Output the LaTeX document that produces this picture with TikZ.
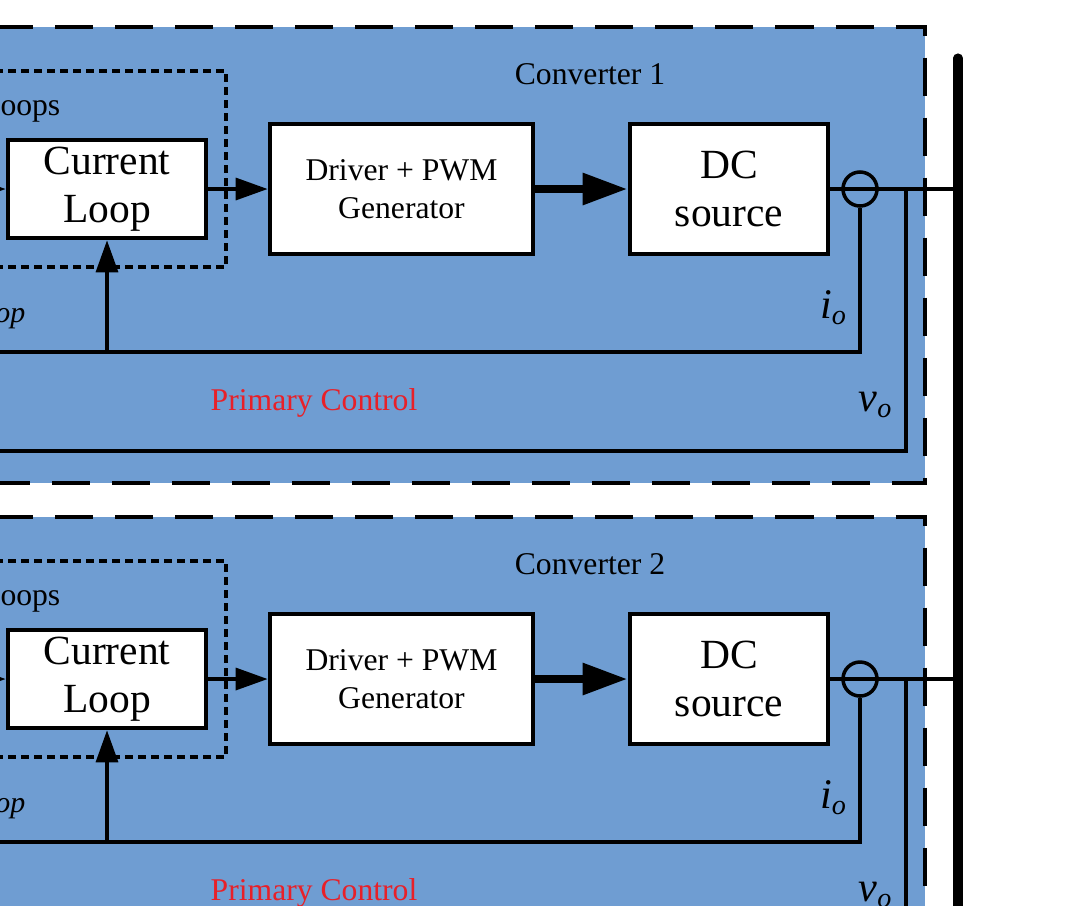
\documentclass[tikz,border=0pt]{standalone}
\usepackage{fontspec}
\setmainfont{Liberation Serif}
\usetikzlibrary{arrows.meta}
\definecolor{panelblue}{RGB}{111,157,210}
\definecolor{ctrlred}{RGB}{232,32,40}
\tikzset{
	block/.style={draw, line width=1.3pt, fill=white, align=center, inner sep=0pt},
	bigtext/.style={font=\fontsize{11.8}{13.7}\selectfont},
	midtext/.style={font=\fontsize{9}{10.8}\selectfont},
	label/.style={inner sep=0pt, font=\fontsize{9}{10.8}\selectfont},
	sensor/.style={draw, circle, line width=1pt, minimum size=0.34cm, inner sep=0pt},
	wire/.style={line width=0.95pt},
	sig/.style={wire, -{Triangle[length=3.2mm, width=2.2mm]}},
	power/.style={line width=2.5pt, -{Triangle[length=4.5mm, width=3mm]}},
	panel/.style={fill=panelblue},
	panelborder/.style={line width=1.2pt, dash pattern=on 0.38cm off 0.22cm},
	innerbox/.style={line width=1pt, dash pattern=on 0.08cm off 0.05cm},
	bus/.style={line width=2.6pt, line cap=round}
}

\begin{document}
\begin{tikzpicture}[x=0.01cm, y=-0.01cm]
		%%%%% START %%%%%
		\useasboundingbox (0,0) rectangle (1083,905);
		\fill[white] (0,0) rectangle (1083,905);
		\clip (0,0) rectangle (1083,905);
		
		% converter 1
		\fill[panel] (-5,27) rectangle (925,483);
		\draw[panelborder] (-5,27) -- (925,27) -- (925,483) -- (-5,483);
		\draw[innerbox] (-5,71) -- (226,71) -- (226,267) -- (-5,267);
		
		\node[label, anchor=base] (name1) at (590,84) {Converter 1};
		\node[label, anchor=base east] (loops1) at (61,115) {oops};
		\node[label, anchor=base east, font=\fontsize{8.5}{10}\selectfont\itshape] (vl1) at (26,322) {op};
		\node[label, anchor=base, text=ctrlred] (pc1) at (314,410) {Primary Control};
		\node[label, anchor=base, font=\fontsize{12}{14}\selectfont] (io1) at (834,318) {\textit{i}\textsubscript{\textit{o}}};
		\node[label, anchor=base, font=\fontsize{12}{14}\selectfont] (vo1) at (876,411) {\textit{v}\textsubscript{\textit{o}}};
		
		\node[block, bigtext, minimum width=1.98cm, minimum height=0.98cm] (cl1) at (107,189) {Current\\Loop};
		\node[block, midtext, minimum width=2.63cm, minimum height=1.3cm, font=\fontsize{9}{10.8}\selectfont] (drv1) at (401.5,189) {Driver + PWM\\Generator};
		\node[block, bigtext, minimum width=1.98cm, minimum height=1.3cm] (dc1) at (729,189) {DC\\source};
		
		\coordinate (in1) at (-40,189);
		\coordinate (tap1) at (906,189);
		\coordinate (bus1) at (958,189);
		\coordinate (fbi1) at (107,352);
		\coordinate (fbl1) at (-5,352);
		\coordinate (fbv1) at (-5,451);
		
		\draw[wire] (dc1.east) -- (bus1);
		\node[sensor] (ct1) at (860,189) {};
		\draw[sig] (in1) -- (cl1.west);
		\draw[sig] (cl1.east) -- (drv1.west);
		\draw[power] (drv1.east) -- (dc1.west);
		\draw[wire] (ct1.south) |- (fbl1);
		\draw[sig] (fbi1) -- (cl1.south);
		\draw[wire] (tap1) |- (fbv1);
		
		% converter 2
		\fill[panel] (-5,517) rectangle (925,973);
		\draw[panelborder] (-5,517) -- (925,517) -- (925,973) -- (-5,973);
		\draw[innerbox] (-5,561) -- (226,561) -- (226,757) -- (-5,757);
		
		\node[label, anchor=base] (name2) at (590,574) {Converter 2};
		\node[label, anchor=base east] (loops2) at (61,605) {oops};
		\node[label, anchor=base east, font=\fontsize{8.5}{10}\selectfont\itshape] (vl2) at (26,812) {op};
		\node[label, anchor=base, text=ctrlred] (pc2) at (314,900) {Primary Control};
		\node[label, anchor=base, font=\fontsize{12}{14}\selectfont] (io2) at (834,808) {\textit{i}\textsubscript{\textit{o}}};
		\node[label, anchor=base, font=\fontsize{12}{14}\selectfont] (vo2) at (876,901) {\textit{v}\textsubscript{\textit{o}}};
		
		\node[block, bigtext, minimum width=1.98cm, minimum height=0.98cm] (cl2) at (107,679) {Current\\Loop};
		\node[block, midtext, minimum width=2.63cm, minimum height=1.3cm, font=\fontsize{9}{10.8}\selectfont] (drv2) at (401.5,679) {Driver + PWM\\Generator};
		\node[block, bigtext, minimum width=1.98cm, minimum height=1.3cm] (dc2) at (729,679) {DC\\source};
		
		\coordinate (in2) at (-40,679);
		\coordinate (tap2) at (906,679);
		\coordinate (bus2) at (958,679);
		\coordinate (fbi2) at (107,842);
		\coordinate (fbl2) at (-5,842);
		\coordinate (fbv2) at (-5,941);
		
		\draw[wire] (dc2.east) -- (bus2);
		\node[sensor] (ct2) at (860,679) {};
		\draw[sig] (in2) -- (cl2.west);
		\draw[sig] (cl2.east) -- (drv2.west);
		\draw[power] (drv2.east) -- (dc2.west);
		\draw[wire] (ct2.south) |- (fbl2);
		\draw[sig] (fbi2) -- (cl2.south);
		\draw[wire] (tap2) |- (fbv2);
		
		% dc bus
		\coordinate (bustop) at (958,58);
		\coordinate (busbot) at (958,960);
		\draw[bus] (bustop) -- (busbot);
		%%%%% END %%%%%
\end{tikzpicture}
\end{document}
